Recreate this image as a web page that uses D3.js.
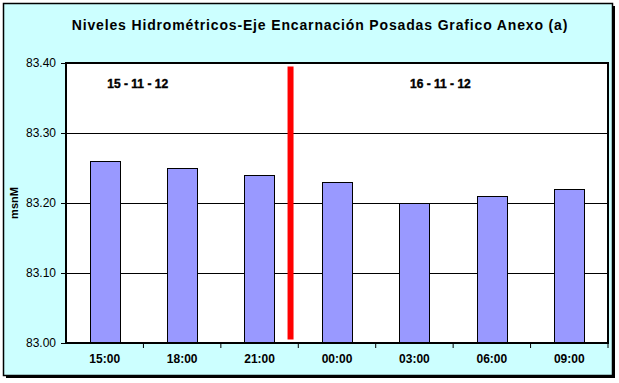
<!DOCTYPE html>
<html><head><meta charset="utf-8">
<script src="https://cdn.jsdelivr.net/npm/d3@7/dist/d3.min.js"></script>
<style>body{margin:0;background:#fff}svg{display:block}text{font-family:Arial,"Liberation Sans",sans-serif}</style>
</head><body>
<svg id="c" width="619" height="383"></svg>
<script>
const categories = ["15:00","18:00","21:00","00:00","03:00","06:00","09:00"];
const values = [83.26, 83.25, 83.24, 83.23, 83.20, 83.21, 83.22];
const yTicks = [83.00, 83.10, 83.20, 83.30, 83.40];
const dateLabels = ["15 - 11 - 12", "16 - 11 - 12"];
const dateLabelCats = ["15:00", "03:00"];
const title = "Niveles Hidrométricos-Eje Encarnación Posadas Grafico Anexo (a)";
const yTitle = "msnM";
const dividerAfter = "21:00";

const svg = d3.select("#c");
// frame with shadow
svg.append("rect").attr("x",6).attr("y",6).attr("width",609).attr("height",372).attr("fill","#000");
svg.append("rect").attr("x",3.5).attr("y",3.5).attr("width",609).attr("height",372).attr("fill","#CCFFFF").attr("stroke","#000").attr("stroke-width",1.5);

const L=66, R=608, T=63, B=343;
const x = d3.scaleBand().domain(categories).range([L,R]).paddingInner(0.61).paddingOuter(0.305);
const xb = d3.scaleBand().domain(categories).range([L,R]);
const y = d3.scaleLinear().domain([83.0,83.4]).range([B,T]);

svg.append("rect").attr("x",L).attr("y",T).attr("width",R-L).attr("height",B-T).attr("fill","#fff");

// gridlines
svg.append("g").selectAll("line").data(yTicks.slice(1,-1)).join("line")
  .attr("x1",L).attr("x2",R).attr("y1",d=>Math.round(y(d))+0.5).attr("y2",d=>Math.round(y(d))+0.5)
  .attr("stroke","#000").attr("stroke-width",1);

// bars
svg.append("g").selectAll("rect").data(values).join("rect")
  .attr("x",(d,i)=>Math.round(x(categories[i]))+0.5)
  .attr("y",d=>Math.round(y(d))+0.5)
  .attr("width",Math.round(x.bandwidth()))
  .attr("height",d=>B-Math.round(y(d)))
  .attr("fill","#9999FF").attr("stroke","#000").attr("stroke-width",1);

// red divider
const dx = xb(dividerAfter)+xb.bandwidth()*0.9;
svg.append("line").attr("x1",dx).attr("x2",dx).attr("y1",y(83.395)).attr("y2",y(83.005))
  .attr("stroke","#FF0000").attr("stroke-width",6);

// plot border
svg.append("rect").attr("x",L).attr("y",T).attr("width",R-L).attr("height",B-T)
  .attr("fill","none").attr("stroke","#000").attr("stroke-width",2);

// y axis
const ya = svg.append("g").attr("transform",`translate(${L},0)`)
  .call(d3.axisLeft(y).tickValues(yTicks).tickFormat(d3.format(".2f")).tickSize(5).tickSizeOuter(0));
ya.select(".domain").remove();
ya.selectAll("line").attr("stroke","#000");
ya.selectAll("text").attr("font-size",12).attr("fill","#000").attr("x",-10);

// x axis
const xa = svg.append("g").attr("transform",`translate(0,${B})`)
  .call(d3.axisBottom(xb).tickSize(0));
xa.select(".domain").remove();
xa.selectAll("text").attr("font-size",12).attr("font-weight","bold").attr("fill","#000").attr("dy","1.05em").attr("y",7);
svg.append("g").selectAll("line").data(categories).join("line")
  .attr("x1",d=>xb(d)+xb.bandwidth()).attr("x2",d=>xb(d)+xb.bandwidth())
  .attr("y1",B).attr("y2",B+5).attr("stroke","#000");

// date labels
const labelShift = [33, 26];
svg.append("g").selectAll("text").data(dateLabels).join("text")
  .attr("x",(d,i)=>xb(dateLabelCats[i])+xb.bandwidth()/2+labelShift[i]).attr("y",y(83.37)+4)
  .attr("text-anchor","middle").attr("font-size",12).attr("font-weight","bold").attr("fill","#000")
  .attr("stroke","#000").attr("stroke-width",0.4)
  .text(d=>d);

// title
svg.append("text").attr("x",320).attr("y",30).attr("text-anchor","middle")
  .attr("font-size",14).attr("font-weight","bold").attr("letter-spacing",0.85).attr("fill","#000").text(title);

// y title
svg.append("text").attr("transform",`translate(18,${(T+B)/2}) rotate(-90)`).attr("text-anchor","middle")
  .attr("font-size",11).attr("font-weight","bold").attr("fill","#000").text(yTitle);
</script>
</body></html>
